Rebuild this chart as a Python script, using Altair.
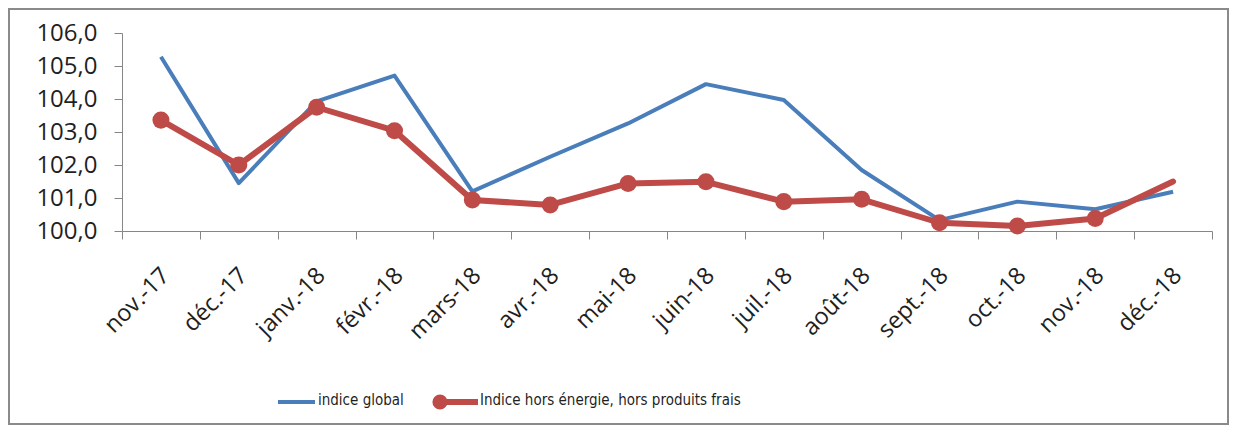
import altair as alt
import pandas as pd

# ---- data ----
months = ["nov.-17", "déc.-17", "janv.-18", "févr.-18", "mars-18", "avr.-18", "mai-18",
          "juin-18", "juil.-18", "août-18", "sept.-18", "oct.-18", "nov.-18", "déc.-18"]
global_idx = [105.28, 101.45, 103.93, 104.71, 101.20, 102.25, 103.26,
              104.45, 103.97, 101.85, 100.33, 100.89, 100.66, 101.19]
core_idx = [103.36, 102.00, 103.75, 103.04, 100.94, 100.79, 101.44,
            101.49, 100.89, 100.96, 100.25, 100.15, 100.38, 101.50]
series_names = ["indice global", "Indice hors énergie, hors produits frais"]
y_ticks = [100, 101, 102, 103, 104, 105, 106]

BLUE = "#4A7EBB"
RED = "#BE4B48"
AXIS_GRAY = "#868686"
TXT = "#1f1f1f"
FONT = "Open Sans"
LEG_FONT = "DejaVu Sans Condensed, Liberation Sans, sans-serif"

df_g = pd.DataFrame({"mois": months, "valeur": global_idx, "i": range(len(months))})
df_c = pd.DataFrame({"mois": months, "valeur": core_idx, "i": range(len(months))})
one = pd.DataFrame({"k": [0]})

x_enc = alt.X(
    "mois:N", sort=months, bandPosition=0.5,
    scale=alt.Scale(type="band", paddingInner=0, paddingOuter=0),
    axis=alt.Axis(title=None, labelAngle=-45, labelFont=FONT, labelFontSize=23.5,
                  labelColor=TXT, labelPadding=24, labelOffset=-4, tickBand="extent",
                  tickSize=8, domainColor=AXIS_GRAY, tickColor=AXIS_GRAY, grid=False),
)
y_enc = alt.Y(
    "valeur:Q",
    scale=alt.Scale(domain=[100, 106], nice=False, zero=False),
    axis=alt.Axis(title=None, values=y_ticks, grid=False, tickSize=8, labelPadding=17,
                  labelFont=FONT, labelFontSize=24, labelColor=TXT,
                  labelExpr="replace(format(datum.value, '.1f'), '.', ',')",
                  domainColor=AXIS_GRAY, tickColor=AXIS_GRAY),
)

line_g = alt.Chart(df_g).mark_line(color=BLUE, strokeWidth=4, strokeJoin="round").encode(x=x_enc, y=y_enc)
line_c = alt.Chart(df_c).mark_line(color=RED, strokeWidth=6, strokeJoin="round", strokeCap="round").encode(x=x_enc, y=y_enc)
pts_c = alt.Chart(df_c).transform_filter(f"datum.i < {len(months) - 1}").mark_point(
    filled=True, color=RED, size=290, opacity=1).encode(x=x_enc, y=y_enc)

# ---- manual legend (layout positions only) ----
leg_y = 369
leg1_line = alt.Chart(one).mark_rule(color=BLUE, strokeWidth=4).encode(
    x=alt.value(156), x2=alt.value(193), y=alt.value(leg_y))
leg1_txt = alt.Chart(one).mark_text(align="left", baseline="middle", font=LEG_FONT,
                                    fontSize=15, color=TXT).encode(
    x=alt.value(196), y=alt.value(leg_y - 2), text=alt.value(series_names[0]))
leg2_line = alt.Chart(one).mark_rule(color=RED, strokeWidth=6).encode(
    x=alt.value(316), x2=alt.value(356), y=alt.value(leg_y))
leg2_pt = alt.Chart(one).mark_point(filled=True, color=RED, size=230, opacity=1).encode(
    x=alt.value(318), y=alt.value(leg_y))
leg2_txt = alt.Chart(one).mark_text(align="left", baseline="middle", font=LEG_FONT,
                                    fontSize=15, color=TXT).encode(
    x=alt.value(358), y=alt.value(leg_y - 2), text=alt.value(series_names[1]))

frame = alt.Chart(one).mark_rect(fill=None, stroke="#8a8a8a", strokeWidth=2).encode(
    x=alt.value(-113), x2=alt.value(1106), y=alt.value(-24), y2=alt.value(391))

chart = alt.layer(
    frame, line_g, line_c, pts_c, leg1_line, leg1_txt, leg2_line, leg2_pt, leg2_txt
).properties(
    width=1090, height=198,
    autosize="none",
    padding={"left": 114, "top": 25, "right": 17, "bottom": 194},
).configure_view(stroke=None)

chart.save("out.html", embed_options={"renderer": "svg", "actions": False})
